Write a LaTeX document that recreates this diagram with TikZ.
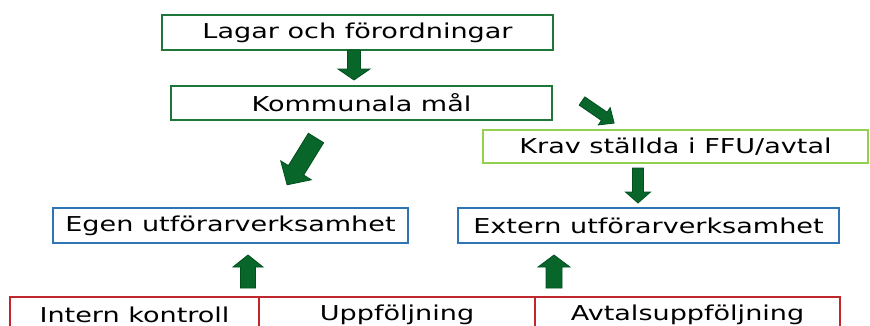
\documentclass[tikz,border=0pt]{standalone}
\usepackage{fontspec}
\setmainfont[FakeStretch=1.32]{DejaVu Sans}
\definecolor{dgreen}{RGB}{30,118,58}
\definecolor{lgreen}{RGB}{146,208,80}
\definecolor{bblue}{RGB}{46,117,182}
\definecolor{rred}{RGB}{192,39,45}
\definecolor{afill}{RGB}{8,102,42}
\definecolor{adraw}{RGB}{0,80,30}
\newcommand\barrow[7]{%
  \begin{scope}[shift={(#1,#2)},rotate=#3,x=1pt,y=1pt]
    \filldraw[blockarr] (0,-#5) -- (#4-#7,-#5) -- (#4-#7,-#6) -- (#4,0) -- (#4-#7,#6) -- (#4-#7,#5) -- (0,#5) -- cycle;
  \end{scope}}
\begin{document}
\begin{tikzpicture}[x=1pt,y=-1pt,
  box/.style={draw,line width=2.2pt,inner sep=0pt,font=\fontsize{20.5}{24}\selectfont},
  blockarr/.style={fill=afill,draw=adraw,line width=0.8pt,line join=miter}]
\path[use as bounding box] (0,0) rectangle (870,325);
\clip (0,0) rectangle (870,325);
\node[box,draw=dgreen,minimum width=391pt,minimum height=35pt] (lagar) at (357.5,32.5) {Lagar och förordningar};
\node[box,draw=dgreen,minimum width=381pt,minimum height=34pt] (komm) at (361.5,103) {Kommunala mål};
\node[box,draw=lgreen,minimum width=385pt,minimum height=33pt] (krav) at (675.5,146.5) {Krav ställda i FFU/avtal};
\node[box,draw=bblue,minimum width=355pt,minimum height=35pt] (egen) at (230.5,225.5) {Egen utförarverksamhet};
\node[box,draw=bblue,minimum width=381pt,minimum height=35pt] (ext) at (648.5,225.5) {Extern utförarverksamhet};
\node[box,draw=rred,minimum width=249pt,minimum height=35pt] (ik) at (134.5,314.5) {Intern kontroll};
\node[box,draw=rred,minimum width=276pt,minimum height=35pt] (upp) at (397,314.5) {Uppföljning};
\node[box,draw=rred,minimum width=305pt,minimum height=35pt] (avt) at (687.5,314.5) {Avtalsuppföljning};
% block arrows
\barrow{354}{50}{-90}{30}{6.5}{16}{11}
\barrow{582}{101}{-34.5}{39}{5}{10.5}{12}
\barrow{316}{138}{238.3}{55}{9}{18}{17}
\barrow{638}{168}{-90}{35}{5.5}{12.5}{11}
\barrow{248}{288}{90}{33}{7.5}{15}{12}
\barrow{554}{288}{90}{33}{8}{16}{12}
\end{tikzpicture}
\end{document}
